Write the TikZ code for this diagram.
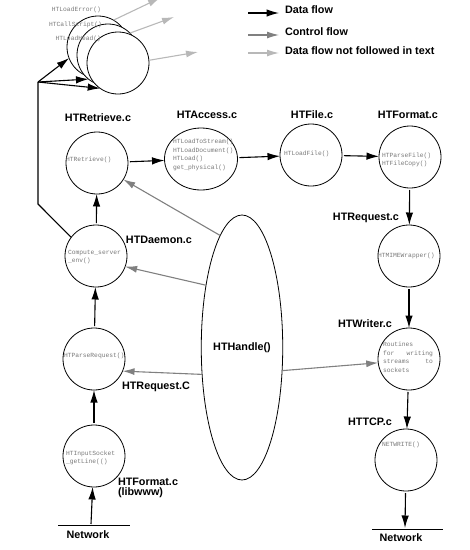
\documentclass[tikz,border=0pt]{standalone}
\usepackage{fontspec}
\setmainfont{Liberation Sans}
\newfontfamily\codefont{Liberation Mono}
\usetikzlibrary{shapes.geometric,arrows.meta}
\begin{document}
\begin{tikzpicture}[x=1pt,y=-1pt,
  every node/.style={inner sep=0pt, outer sep=0pt},
  proc/.style={circle, draw, line width=0.8pt, minimum size=62pt, fill=white},
  oval/.style={ellipse, draw, line width=0.8pt, fill=white},
  lbl/.style={font=\fontsize{10.8}{12}\selectfont\bfseries},
  code/.style={font=\codefont\fontsize{6.3}{8.5}\selectfont, text=black!52, align=left, anchor=west},
  data/.style={line width=1.1pt, shorten <=2pt, -{Latex[length=12.5pt,width=7.5pt]}},
  ctrl/.style={line width=1.1pt, draw=black!50, -{Latex[length=12pt,width=7pt]}},
  nof/.style={line width=1.1pt, draw=black!28, -{Latex[length=12pt,width=7pt]}},
  netline/.style={line width=0.8pt},
]
\useasboundingbox (0,0) rectangle (470,550);

% top cluster
\node[proc] (c1) at (98,47) {};
\node[proc] (c2) at (108,55) {};
\node[proc] (c3) at (118,63) {};
\node[code, anchor=east] (t1) at (101,10) {HTLoadError()};
\node[code, anchor=east] (t2) at (102,25) {HTCallScript()};
\node[code, anchor=east] (t3) at (101,39) {HTLoadHead()};

\coordinate (g1) at (160,-2);
\coordinate (g2) at (174,17);
\coordinate (g3) at (198,52);
\draw[nof] (c1.60) -- (g1);
\draw[nof] (c2.45) -- (g2);
\draw[nof] (c3.5) -- (g3);

% legend
\coordinate (la1) at (248,13); \coordinate (lb1) at (279,13);
\coordinate (la2) at (248,35); \coordinate (lb2) at (279,35);
\coordinate (la3) at (248,53); \coordinate (lb3) at (279,53);
\draw[data, shorten <=0pt] (la1) -- (lb1);
\draw[ctrl] (la2) -- (lb2);
\draw[nof] (la3) -- (lb3);
\node[lbl, anchor=west] (L1) at (285,10) {Data flow};
\node[lbl, anchor=west] (L2) at (285,32) {Control flow};
\node[lbl, anchor=west] (L3) at (285,51) {Data flow not followed in text};

% top row
\node[proc] (ret) at (97,163) {};
\node[oval, minimum width=73pt, minimum height=62pt] (acc) at (201,159) {};
\node[proc] (fil) at (311,155) {};
\node[proc] (fmt) at (410,157) {};
\node[lbl] (Lret) at (98,118) {HTRetrieve.c};
\node[lbl] (Lacc) at (207,115) {HTAccess.c};
\node[lbl] (Lfil) at (312,115) {HTFile.c};
\node[lbl] (Lfmt) at (408,115) {HTFormat.c};
\node[code] (tret) at (66,160) {HTRetrieve()};
\node[code] (tacc) at (173,155) {HTLoadToStream()\\HTLoadDocument()\\HTLoad()\\get\_physical()};
\node[code] (tfil) at (284,154) {HTLoadFile()};
\node[code] (tfmt) at (382,160) {HTParseFile()\\HTFileCopy()};

% right column
\node[proc] (mime) at (409,256) {};
\node[proc] (wri) at (409,359) {};
\node[proc] (tcp) at (406,460) {};
\node[lbl] (Lreq) at (366,218) {HTRequest.c};
\node[lbl] (Lwri) at (365,324) {HTWriter.c};
\node[lbl] (Ltcp) at (370,422) {HTTCP.c};
\node[code] (tmime) at (378,256) {HTMIMEWrapper()};
\node[code] (twri) at (383,357) {Routines\\\makebox[50pt][s]{for writing}\\\makebox[50pt][s]{streams to}\\sockets};
\node[code] (ttcp) at (382,445) {NETWRITE()};

% left column
\node[proc] (dae) at (96,256) {};
\node[proc] (preq) at (94,359) {};
\node[proc] (ins) at (94,456) {};
\node[lbl] (Ldae) at (159,240) {HTDaemon.c};
\node[lbl] (Lpreq) at (156,387) {HTRequest.C};
\node[lbl, anchor=west, align=left, font=\fontsize{10.8}{10}\selectfont\bfseries] (Lins) at (118,488) {HTFormat.c\\(libwww)};
\node[code] (tdae) at (68,257) {Compute\_server\\\_env()};
\node[code] (tpreq) at (64,356) {HTParseRequest()};
\node[code] (tins) at (66,458) {HTInputSocket\\\_getLine(()};

% HTHandle
\node[oval, minimum width=75pt, minimum height=265pt, lbl, fill=none] (hand) at (242,347.5) {HTHandle()};

% networks
\coordinate (nl1) at (58,525); \coordinate (nl2) at (130,525);
\coordinate (nr1) at (372,529); \coordinate (nr2) at (443,529);
\coordinate (nla) at (91,524);
\coordinate (nra) at (405,528);
\draw[netline] (nl1) -- (nl2);
\draw[netline] (nr1) -- (nr2);
\node[lbl] (Nl) at (88,535) {Network};
\node[lbl] (Nr) at (401,538) {Network};

% data flow arrows
\draw[data] (ret) -- (acc);
\draw[data] (acc) -- (fil);
\draw[data] (fil) -- (fmt);
\draw[data] (fmt) -- (mime);
\draw[data] (mime) -- (wri);
\draw[data] (wri) -- (tcp);
\draw[data] (tcp) -- (nra);
\draw[data, shorten <=0pt] (nla) -- (ins);
\draw[data] (ins) -- (preq);
\draw[data] (preq) -- (dae);
\draw[data] (dae) -- (ret);

% path to top cluster
\coordinate (bend) at (38,204);
\coordinate (junc) at (38,82);
\draw[line width=1.1pt] (dae.143) -- (bend) -- (junc);
\draw[data, shorten <=0pt] (junc) -- (c1.201);
\draw[data, shorten <=0pt] (junc) -- (c2.231);
\draw[data, shorten <=0pt] (junc) -- (c3.235);

% control flow from HTHandle
\draw[ctrl] (hand.101.6) -- (ret.-32);
\draw[ctrl] (hand.120) -- (dae.-20);
\draw[ctrl] (hand.214) -- (preq.-23);
\draw[ctrl] (hand.-30) -- (wri.187);
\end{tikzpicture}
\end{document}
